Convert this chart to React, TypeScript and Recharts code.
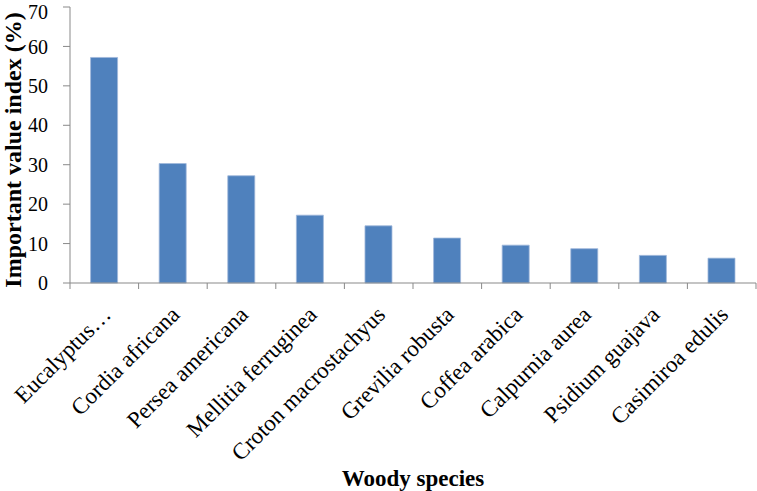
import React from 'react';
import { BarChart, Bar, XAxis, YAxis } from 'recharts';

const species = [
    'Eucalyptus…',
    'Cordia africana',
    'Persea americana',
    'Mellitia ferruginea',
    'Croton macrostachyus',
    'Grevilia robusta',
    'Coffea arabica',
    'Calpurnia aurea',
    'Psidium guajava',
    'Casimiroa edulis',
];
const ivi = [57.2, 30.3, 27.2, 17.2, 14.5, 11.4, 9.6, 8.7, 7.0, 6.3];
const yTicks = [0, 10, 20, 30, 40, 50, 60, 70];

const data = species.map((name, i) => ({ name, ivi: ivi[i] }));

const W = 757;
const H = 491;
const margin = { top: 7, right: 1, left: 0, bottom: 0 };
const yAxisWidth = 70;
const bandWidth = (W - margin.left - margin.right - yAxisWidth) / species.length;

const font = 'Liberation Serif, serif';
const axisColor = '#898989';
const barColor = '#4f81bd';

// Excel style: tick marks sit between categories, labels rotated 45deg
const XTick = (props: any) => {
    const { x, y, payload, index } = props;
    const left = x - bandWidth / 2;
    const isLast = index === species.length - 1;
    const tx = x + 8;
    const ty = y + 33;
    return (
        <g>
            <line x1={left} y1={y} x2={left} y2={y + 6} stroke={axisColor} />
            {isLast && <line x1={left + bandWidth} y1={y} x2={left + bandWidth} y2={y + 6} stroke={axisColor} />}
            <text
                x={tx}
                y={ty}
                transform={`rotate(-45 ${tx} ${ty})`}
                textAnchor="end"
                style={{ fontSize: 23, fontFamily: font }}
                fill="#000"
                stroke="none"
            >
                {payload.value}
            </text>
        </g>
    );
};

const XTitle = (props: any) => {
    const { x, y, width } = props.viewBox;
    return (
        <text x={x + width / 2} y={y + 203} textAnchor="middle" style={{ fontSize: 23, fontWeight: 'bold', fontFamily: font }} fill="#000" stroke="none">
            Woody species
        </text>
    );
};

const YTitle = (props: any) => {
    const { y, height } = props.viewBox;
    const cx = 21;
    const cy = y + height / 2 + 5;
    return (
        <text x={cx} y={cy} transform={`rotate(-90 ${cx} ${cy})`} textAnchor="middle" style={{ fontSize: 24, fontWeight: 'bold', fontFamily: font }} fill="#000" stroke="none">
            Important value index (%)
        </text>
    );
};

const App: React.FC = () => {
    return (
        <div style={{ position: 'absolute', left: 0, top: 0, width: W, height: H, background: '#fff', fontFamily: font }}>
            <BarChart width={W} height={H} data={data} margin={margin} barCategoryGap="30%">
                <XAxis
                    dataKey="name"
                    interval={0}
                    height={H - 283}
                    tickSize={0}
                    tickMargin={0}
                    tickLine={false}
                    tick={<XTick />}
                    stroke={axisColor}
                    label={<XTitle />}
                />
                <YAxis
                    domain={[0, 70]}
                    ticks={yTicks}
                    width={yAxisWidth}
                    tickSize={7}
                    tickMargin={15}
                    stroke={axisColor}
                    tick={{ fill: '#000', fontSize: 20, fontFamily: font }}
                    label={<YTitle />}
                />
                <Bar dataKey="ivi" fill={barColor} stroke="#9fb8da" strokeWidth={0.8} isAnimationActive={false} />
            </BarChart>
        </div>
    );
};

export default App;
